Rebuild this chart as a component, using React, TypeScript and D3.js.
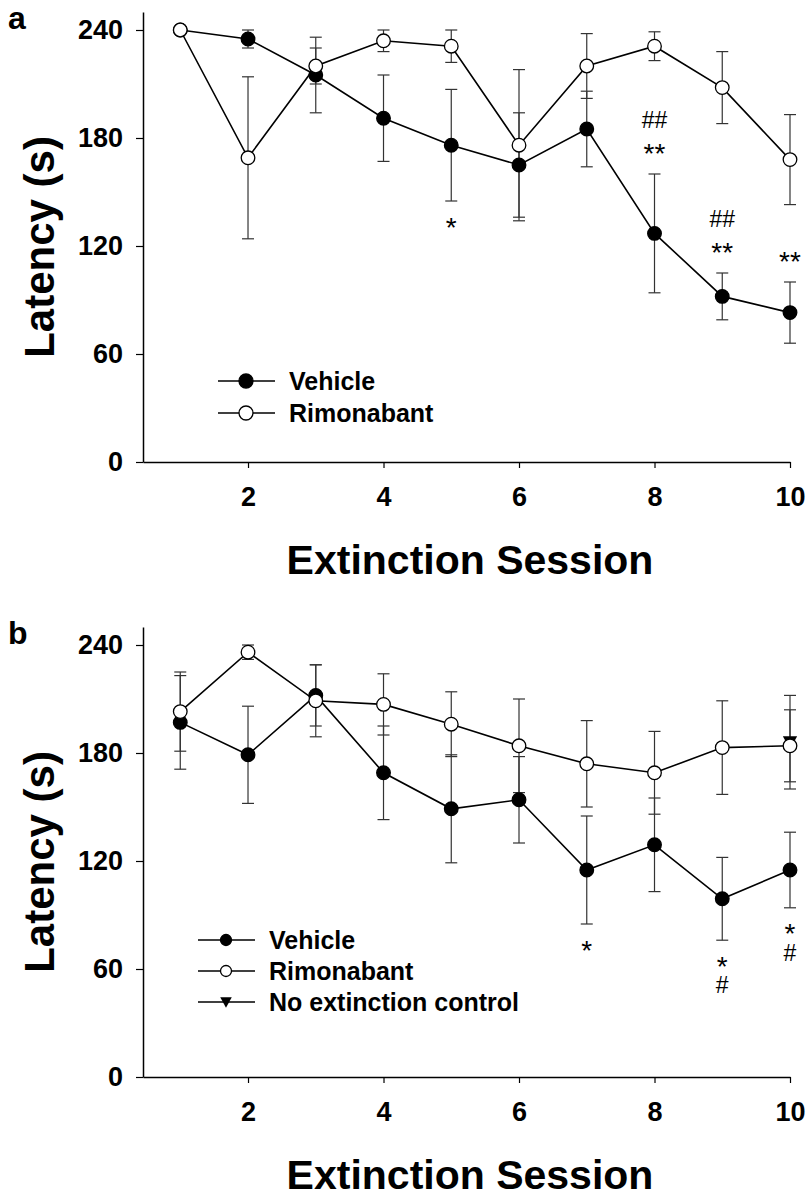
import React, { useEffect, useRef } from 'react';
import * as d3 from 'd3';

const sessions = [1, 2, 3, 4, 5, 6, 7, 8, 9, 10];
const xTicks = [2, 4, 6, 8, 10];
const yTicks = [0, 60, 120, 180, 240];

// panel a
const vehicleA = [240, 235, 215, 191, 176, 165, 185, 127, 92, 83];
const vehicleAErr = [0, 5, 21, 24, 31, 29, 21, 33, 13, 17];
const rimonabantA = [240, 169, 220, 234, 231, 176, 220, 231, 208, 168];
const rimonabantAErr = [0, 45, 10, 6, 9, 42, 18, 8, 20, 25];

// panel b
const vehicleB = [197, 179, 212, 169, 149, 154, 115, 129, 99, 115];
const vehicleBErr = [26, 27, 17, 26, 30, 24, 30, 26, 23, 21];
const rimonabantB = [203, 236, 209, 207, 196, 184, 174, 169, 183, 184];
const rimonabantBErr = [22, 4, 20, 17, 18, 26, 24, 23, 26, 20];
const controlSession = [10];
const controlB = [186];
const controlBErr = [26];

// significance marks, stacked away from the vehicle error bar
const marksA = [
  { session: 5, labels: ['*'], side: 'below' },
  { session: 8, labels: ['**', '##'], side: 'above' },
  { session: 9, labels: ['**', '##'], side: 'above' },
  { session: 10, labels: ['**'], side: 'above' },
];
const marksB = [
  { session: 7, labels: ['*'], side: 'below' },
  { session: 9, labels: ['*', '#'], side: 'below' },
  { session: 10, labels: ['*', '#'], side: 'below' },
];

const FONT = 'Liberation Sans, Arial, sans-serif';
const W = 809;
const H = 1197;

type Mark = { session: number; labels: string[]; side: string };
type Series = { values: number[]; errs: number[]; kind: string; xs: number[] };

const drawPanel = (
  svg: d3.Selection<SVGSVGElement, unknown, null, undefined>,
  top: number,
  letter: string,
  series: Series[],
  marks: Mark[],
  vehicle: number[],
  vehicleErr: number[],
  legend: { label: string; kind: string }[],
  legendPos: { x: number; y: number; step: number; r: number }
) => {
  const g = svg.append('g').attr('transform', `translate(0, ${top})`);
  const x = d3.scaleLinear().domain([0.45, 10]).range([143, 790]);
  const y = d3.scaleLinear().domain([0, 250]).range([462, 12]);

  // axes
  const ya = g.append('g').attr('transform', 'translate(143,0)')
    .call(d3.axisLeft(y).tickValues(yTicks).tickSize(7).tickSizeOuter(0).tickPadding(13));
  const xa = g.append('g').attr('transform', 'translate(0,462)')
    .call(d3.axisBottom(x).tickValues(xTicks).tickSize(6).tickSizeOuter(0).tickPadding(19));
  [ya, xa].forEach(a => {
    a.select('.domain').attr('stroke', '#000').attr('stroke-width', 1.5);
    a.selectAll('.tick line').attr('stroke', '#000').attr('stroke-width', 1.2);
    a.selectAll('.tick text')
      .attr('fill', '#000')
      .style('font-family', FONT)
      .style('font-size', '27px')
      .style('font-weight', 'bold');
  });

  g.append('text')
    .attr('x', 470).attr('y', 574)
    .attr('text-anchor', 'middle')
    .style('font-family', FONT).style('font-size', '41px').style('font-weight', 'bold')
    .text('Extinction Session');

  g.append('text')
    .attr('transform', 'translate(54, 247) rotate(-90)')
    .attr('text-anchor', 'middle')
    .style('font-family', FONT).style('font-size', '42px').style('font-weight', 'bold')
    .text('Latency (s)');

  g.append('text')
    .attr('x', 8).attr('y', 29)
    .style('font-family', FONT).style('font-size', '32px').style('font-weight', 'bold')
    .text(letter);

  // error bars
  series.forEach(s => {
    const eb = g.append('g').attr('stroke', '#333').attr('stroke-width', 1.2);
    s.values.forEach((v, i) => {
      const e = s.errs[i];
      if (!e) return;
      const cx = x(s.xs[i]);
      eb.append('line').attr('x1', cx).attr('x2', cx).attr('y1', y(v + e)).attr('y2', y(v - e));
      eb.append('line').attr('x1', cx - 6).attr('x2', cx + 6).attr('y1', y(v + e)).attr('y2', y(v + e));
      eb.append('line').attr('x1', cx - 6).attr('x2', cx + 6).attr('y1', y(v - e)).attr('y2', y(v - e));
    });
  });

  const line = d3.line<number>().x((_, i) => x(sessions[i])).y(d => y(d));
  series.filter(s => s.kind !== 'tri').forEach(s => {
    g.append('path').attr('d', line(s.values)).attr('fill', 'none')
      .attr('stroke', '#000').attr('stroke-width', 1.6);
  });

  const tri = (cx: number, cy: number, w: number) =>
    `M${cx - w / 2},${cy - w * 0.42}L${cx + w / 2},${cy - w * 0.42}L${cx},${cy + w * 0.5}Z`;

  const drawMarker = (sel: d3.Selection<SVGGElement, unknown, null, undefined>, kind: string, cx: number, cy: number, r: number) => {
    if (kind === 'tri') {
      sel.append('path').attr('d', tri(cx, cy, r * 2.1)).attr('fill', '#000');
    } else {
      sel.append('circle').attr('cx', cx).attr('cy', cy).attr('r', r)
        .attr('fill', kind === 'filled' ? '#000' : '#fff')
        .attr('stroke', '#000').attr('stroke-width', 1.3);
    }
  };

  // markers: filled, then triangle, then open on top
  ['filled', 'tri', 'open'].forEach(kind => {
    series.filter(s => s.kind === kind).forEach(s => {
      const mg = g.append('g');
      s.values.forEach((v, i) => drawMarker(mg, kind, x(s.xs[i]), y(v), 6.8));
    });
  });

  // significance marks
  marks.forEach(m => {
    const i = sessions.indexOf(m.session);
    const cx = x(m.session);
    m.labels.forEach((lab, k) => {
      const star = lab.startsWith('*');
      const fs = star ? 28 : 23;
      const center = m.side === 'above'
        ? y(vehicle[i] + vehicleErr[i]) - 26 - k * 28
        : y(vehicle[i] - vehicleErr[i]) + 21 + k * 24;
      const off = star ? 0.52 * fs : 0.36 * fs;
      g.append('text')
        .attr('x', cx).attr('y', center + off)
        .attr('text-anchor', 'middle')
        .style('font-family', FONT).style('font-size', `${fs}px`)
        .text(lab);
    });
  });

  // legend
  const lg = g.append('g');
  legend.forEach((l, k) => {
    const ly = legendPos.y + k * legendPos.step;
    lg.append('line').attr('x1', legendPos.x).attr('x2', legendPos.x + 57)
      .attr('y1', ly).attr('y2', ly).attr('stroke', '#000').attr('stroke-width', 1.6);
    drawMarker(lg, l.kind, legendPos.x + 28, ly, legendPos.r);
    lg.append('text')
      .attr('x', legendPos.x + 71).attr('y', ly)
      .attr('dy', '0.36em')
      .style('font-family', FONT).style('font-size', '25px').style('font-weight', 'bold')
      .text(l.label);
  });
};

const App = () => {
  const ref = useRef<SVGSVGElement | null>(null);

  useEffect(() => {
    if (!ref.current) return;
    const svg = d3.select(ref.current);
    svg.selectAll('*').remove();

    drawPanel(svg, 0, 'a',
      [
        { values: vehicleA, errs: vehicleAErr, kind: 'filled', xs: sessions },
        { values: rimonabantA, errs: rimonabantAErr, kind: 'open', xs: sessions },
      ],
      marksA, vehicleA, vehicleAErr,
      [{ label: 'Vehicle', kind: 'filled' }, { label: 'Rimonabant', kind: 'open' }],
      { x: 218, y: 381, step: 32, r: 7 }
    );

    drawPanel(svg, 615, 'b',
      [
        { values: vehicleB, errs: vehicleBErr, kind: 'filled', xs: sessions },
        { values: controlB, errs: controlBErr, kind: 'tri', xs: controlSession },
        { values: rimonabantB, errs: rimonabantBErr, kind: 'open', xs: sessions },
      ],
      marksB, vehicleB, vehicleBErr,
      [
        { label: 'Vehicle', kind: 'filled' },
        { label: 'Rimonabant', kind: 'open' },
        { label: 'No extinction control', kind: 'tri' },
      ],
      { x: 198, y: 325, step: 31, r: 5.5 }
    );
  }, []);

  return (
    <svg ref={ref} width={W} height={H}
      style={{ position: 'absolute', left: 0, top: 0, background: '#fff' }} />
  );
};

export default App;
